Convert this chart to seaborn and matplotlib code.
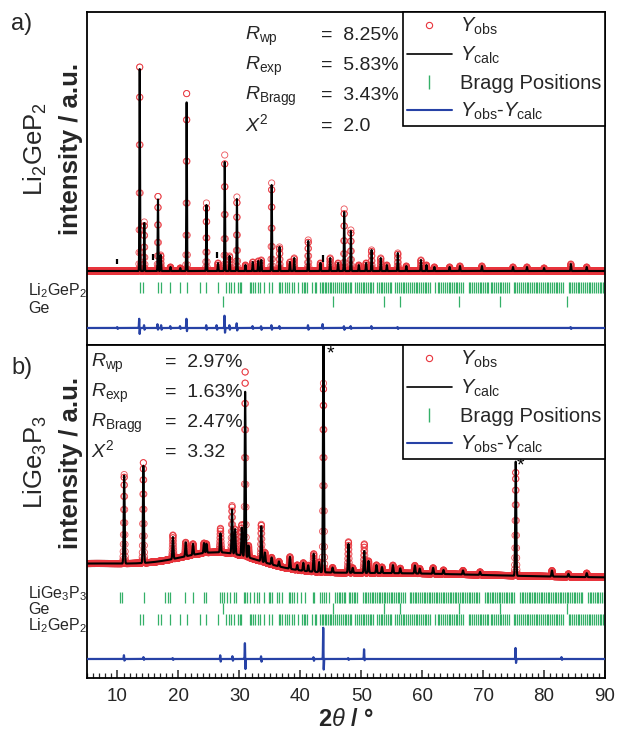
import numpy as np
import seaborn as sns
import matplotlib.pyplot as plt
from matplotlib.lines import Line2D

sns.set_theme(style="white")
plt.rcParams["font.family"] = ["Liberation Sans", "DejaVu Sans"]
plt.rcParams["mathtext.fontset"] = "custom"
plt.rcParams["mathtext.rm"] = "Liberation Sans"
plt.rcParams["mathtext.it"] = "Liberation Sans:italic"
plt.rcParams["mathtext.bf"] = "Liberation Sans:bold"

# ---------------- data ----------------
# panel a) Li2GeP2 : peak position (2theta), observed / calculated height
a_pos = [13.65, 14.4, 16.65, 17.1, 18.7, 20.3, 21.35, 24.6, 26.5, 27.6, 28.4, 29.6,
         31.0, 32.2, 33.1, 33.6, 35.3, 36.6, 38.3, 39.0, 41.3, 43.3, 44.9, 46.2,
         47.2, 48.3, 49.6, 50.8, 51.7, 53.2, 54.2, 56.0, 57.4, 59.8, 60.7, 62.0,
         64.5, 66.2, 69.8, 74.9, 77.2, 80.0, 84.4, 87.0]
a_obs = [208, 49, 76, 16, 4, 3, 181, 68, 8, 116, 15, 74,
         6, 9, 10, 11, 88, 24, 9, 13, 31, 8, 13, 8,
         62, 41, 6, 8, 21, 13, 6, 18, 5, 11, 6, 4,
         4, 5, 5, 4, 4, 3, 7, 4]
a_calc = [206, 48, 73, 16, 4, 3, 172, 66, 8, 109, 15, 72,
          6, 9, 10, 11, 86, 24, 9, 13, 30, 8, 13, 8,
          59, 40, 6, 8, 21, 13, 6, 18, 5, 11, 6, 4,
          4, 5, 5, 4, 4, 3, 7, 4]
a_base = 74
# small impurity marks in panel a: position, bottom, top
a_mark_pos = [10.0, 15.85, 26.3, 43.7]
a_mark_lo = [81, 85, 87, 83]
a_mark_hi = [86, 91, 93, 90]
# difference curve spikes: position, up, down
a_res_pos = [10.0, 13.6, 14.4, 16.6, 17.2, 18.7, 20.3, 21.35, 24.6, 26.3, 27.6, 28.4,
             29.6, 32.2, 33.6, 35.3, 36.6, 41.3, 43.7, 47.2, 48.3, 51.7, 56.0, 84.4]
a_res_up = [1, 10, 3, 4, 3, 2, 2, 10, 3, 3, 13, 3, 5, 2, 2, 3, 2, 3, 4, 2, 2, 2, 1, 1]
a_res_dn = [1, 7, 2, 2, 2, 1, 1, 4, 2, 2, 6, 2, 3, 1, 2, 2, 1, 2, 1, 2, 1, 1, 1, 1]

# panel b) LiGe3P3 (+ Ge, Li2GeP2)
b_pos = [11.1, 14.25, 19.1, 21.2, 22.4, 24.2, 24.6, 26.9, 28.8, 29.3, 30.4, 30.95,
         31.5, 33.6, 34.2, 35.3, 36.5, 38.3, 39.5, 40.5, 41.3, 42.2, 43.1, 43.8,
         45.3, 47.9, 48.6, 50.5, 51.2, 52.5, 53.4, 55.2, 56.4, 58.8, 59.6, 61.8,
         63.5, 66.7, 69.5, 75.35, 81.3, 84.0, 87.0]
b_obs = [89, 101, 24, 14, 11, 10, 9, 24, 48, 25, 31, 186,
         12, 37, 10, 7, 5, 12, 5, 8, 6, 18, 10, 189,
         5, 31, 5, 29, 12, 8, 6, 8, 5, 8, 5, 6,
         4, 4, 3, 104, 6, 3, 4]
b_calc = [88, 98, 22, 14, 11, 10, 9, 19, 44, 25, 28, 166,
          12, 35, 10, 7, 5, 12, 5, 8, 6, 18, 10, 250,
          5, 29, 5, 22, 12, 8, 6, 8, 5, 8, 5, 6,
          4, 4, 3, 115, 6, 3, 4]
b_base = 100
# broad background humps: position, height, width
b_bg_pos = [5.0, 27.0, 50.0]
b_bg_h = [14, 19, 5]
b_bg_w = [14.0, 6.5, 20.0]
b_res_pos = [11.1, 14.3, 19.1, 26.9, 28.9, 30.95, 33.6, 42.2, 43.8, 47.9, 50.5, 75.35, 82.9]
b_res_up = [4, 2, 1, 4, 3, 18, 3, 2, 33, 1, 10, 12, 2]
b_res_dn = [2, 1, 1, 3, 2, 12, 3, 2, 14, 1, 2, 5, 1]
b_stars = [44.9, 76.2]
b_star_y = [324, 212]

# Bragg positions
li2gep2_ticks = [
    13.64, 14.19, 16.65, 17.14, 18.68, 20.32, 21.41, 23.6, 24.58, 26.5, 27.87, 28.25,
    28.69, 29.07, 29.73, 30.05, 30.33, 31.7, 31.97, 32.24, 32.63, 33.0, 33.45, 34.0,
    34.8, 35.36, 36.45, 36.73, 37.0, 37.55, 37.82, 38.1, 38.64, 38.92, 39.57, 40.28,
    40.56, 40.83, 41.1, 41.93, 42.35, 42.6, 43.3, 43.52, 43.8, 44.02, 44.3, 44.61,
    44.85, 45.12, 45.4, 45.72, 46.01, 46.28, 46.6, 47.02, 47.3, 47.52, 47.83, 48.12,
    48.4, 49.05, 49.36, 49.62, 49.9, 50.21, 50.48, 50.81, 51.06, 51.37, 51.6, 51.93,
    52.62, 52.88, 53.21, 53.47, 53.8, 54.08, 54.42, 54.7, 54.96, 55.62, 55.9, 56.23,
    56.5, 56.81, 57.07, 57.42, 57.69, 57.98, 58.33, 58.6, 58.92, 59.18, 59.5, 59.83,
    60.08, 60.41, 60.7, 61.02, 61.28, 62.18, 62.52, 62.79, 63.12, 63.38, 63.72, 64.01,
    64.32, 64.58, 64.93, 65.2, 65.51, 65.79, 66.12, 66.4, 66.73, 67.62, 67.88, 68.21,
    68.5, 68.82, 69.08, 69.43, 69.7, 70.02, 70.3, 70.61, 70.88, 71.22, 71.48, 71.8,
    72.12, 72.38, 72.71, 72.98, 73.32, 73.6, 73.93, 74.2, 75.02, 75.31, 75.58, 75.92,
    76.2, 76.52, 76.8, 77.12, 77.4, 77.68, 78.02, 78.28, 78.61, 78.9, 79.2, 79.53,
    79.8, 80.11, 80.42, 80.7, 81.01, 81.28, 81.62, 81.9, 82.2, 82.51, 82.8, 83.12,
    84.02, 84.3, 84.62, 84.9, 85.22, 85.5, 85.78, 86.1, 86.41, 86.7, 87.02, 87.3,
    87.58, 87.9, 88.21, 88.5, 88.8, 89.12, 89.4, 89.72]
ge_ticks = [27.3, 45.35, 53.75, 56.4, 66.05, 72.85, 83.75]
lige3p3_ticks = [
    10.36, 10.74, 14.3, 17.86, 18.24, 18.68, 21.14, 22.4, 24.15, 24.53, 26.88, 27.16,
    27.43, 27.98, 28.41, 29.07, 29.45, 30.71, 30.98, 31.26, 31.8, 32.35, 32.9, 33.17,
    34.0, 34.8, 35.1, 35.36, 36.2, 36.45, 37.0, 38.1, 38.37, 38.64, 38.92, 39.46,
    40.17, 40.83, 42.09, 42.3, 43.18, 43.57, 43.95, 44.28, 44.66, 45.75, 46.02, 46.3,
    46.55, 46.82, 47.1, 47.4, 47.92, 48.2, 48.47, 48.78, 49.05, 49.32, 50.3, 50.58,
    50.85, 51.12, 51.4, 51.71, 51.98, 52.26, 52.52, 52.85, 53.1, 53.42, 53.7, 53.96,
    54.28, 54.55, 54.82, 55.12, 55.4, 55.7, 55.98, 56.25, 56.56, 56.82, 57.1, 57.95,
    58.22, 58.5, 58.8, 59.06, 59.38, 59.66, 59.92, 60.22, 60.5, 60.8, 61.08, 61.35,
    61.66, 61.92, 62.2, 62.5, 62.78, 63.08, 63.36, 63.62, 63.92, 64.2, 64.5, 64.8,
    65.06, 65.36, 65.62, 65.92, 66.2, 66.48, 66.78, 67.06, 67.35, 67.62, 67.92, 68.2,
    68.5, 68.78, 69.05, 69.32, 70.3, 70.56, 70.86, 71.12, 71.42, 71.7, 71.98, 72.26,
    72.56, 72.82, 73.12, 73.4, 73.68, 73.96, 74.26, 74.52, 74.82, 75.08, 76.02, 76.3,
    76.6, 76.88, 77.16, 77.46, 77.72, 78.02, 78.3, 78.58, 78.88, 79.16, 79.42, 79.72,
    80.0, 80.3, 80.58, 80.86, 81.14, 81.42, 81.72, 82.0, 82.28, 82.56, 82.86, 83.12,
    83.42, 83.7, 83.98, 84.28, 84.56, 84.84, 85.12, 85.4, 85.7, 85.98, 86.26, 87.2,
    87.48, 87.76, 88.05, 88.32, 88.62, 88.9, 89.2, 89.46, 89.76]

a_stats = ["8.25%", "5.83%", "3.43%", "2.0"]
b_stats = ["2.97%", "1.63%", "2.47%", "3.32"]
stat_names = [r"$R_{\rm wp}$", r"$R_{\rm exp}$", r"$R_{\rm Bragg}$", r"$X^{2}$"]
x_ticks = [10, 20, 30, 40, 50, 60, 70, 80, 90]

# ---------------- styling ----------------
RED = "#e8343c"
GREEN = "#34b068"
BLUE = "#2742a6"
W, H = 617, 738


def fxy(x, y):
    return x / W, 1 - y / H


def peaks(x, pos, hts, w):
    p = np.asarray(pos)[:, None]
    h = np.asarray(hts, dtype=float)[:, None]
    ww = np.broadcast_to(np.asarray(w, dtype=float), p.shape[:1])[:, None]
    return (h * np.exp(-0.5 * ((x[None, :] - p) / ww) ** 2)).sum(axis=0)


def diff_curve(x, pos, up, dn):
    p = np.asarray(pos)
    return peaks(x, p - 0.035, up, 0.035) - peaks(x, p + 0.035, dn, 0.035)


tt = np.arange(5.0, 90.001, 0.02)

fig = plt.figure(figsize=(W / 100, H / 100), dpi=100)
ax_a = fig.add_axes([87 / W, 1 - 345 / H, 518 / W, 333 / H])
ax_b = fig.add_axes([87 / W, 1 - 678 / H, 518 / W, 333 / H])


def draw_panel(ax, obs, calc, res, res_level, rows):
    sns.scatterplot(x=tt, y=obs, ax=ax, marker="o", s=20, facecolor="none",
                    edgecolor=RED, linewidth=0.6, alpha=0.85, zorder=2)
    sns.lineplot(x=tt, y=calc, ax=ax, color="black", lw=1.5, estimator=None,
                 sort=False, zorder=3)
    sns.lineplot(x=tt, y=res + res_level, ax=ax, color=BLUE, lw=1.6,
                 estimator=None, sort=False, zorder=3)
    for ticks, yc in rows:
        ax.vlines(ticks, yc - 5.5, yc + 5.5, color=GREEN, lw=0.9, zorder=2)
    ax.set_xlim(5, 90)
    ax.set_ylim(0, 333)
    ax.set_yticks([])
    for s in ax.spines.values():
        s.set_color("black")
        s.set_linewidth(1.3)


# panel a
obs_a = a_base + peaks(tt, a_pos, a_obs, 0.05)
calc_a = a_base + peaks(tt, a_pos, a_calc, 0.05)
res_a = diff_curve(tt, a_res_pos, a_res_up, a_res_dn)
draw_panel(ax_a, obs_a, calc_a, res_a, 17,
           [(li2gep2_ticks, 57.5), (ge_ticks, 43.5)])
ax_a.vlines(a_mark_pos, a_mark_lo, a_mark_hi, color="black", lw=1.6, zorder=4)
ax_a.set_xticks([])

# panel b
bg_b = b_base + peaks(tt, b_bg_pos, b_bg_h, b_bg_w)
obs_b = bg_b + peaks(tt, b_pos, b_obs, 0.08)
calc_b = bg_b + peaks(tt, b_pos, b_calc, 0.08)
res_b = diff_curve(tt, b_res_pos, b_res_up, b_res_dn)
draw_panel(ax_b, obs_b, calc_b, res_b, 19,
           [(lige3p3_ticks, 81), (ge_ticks, 70), (li2gep2_ticks, 59)])
for xs, ys in zip(b_stars, b_star_y):
    ax_b.text(xs, ys, "*", fontsize=14, ha="center", va="center", color="black")

ax_b.set_xticks(x_ticks)
ax_b.set_xticks(range(5, 91), minor=True)
ax_b.tick_params(axis="x", which="major", direction="in", length=6, width=1.1,
                 labelsize=13.5, pad=7, bottom=True)
ax_b.tick_params(axis="x", which="minor", direction="in", length=3.5, width=0.9,
                 bottom=True)
ax_b.set_xlabel(r"2$\mathit{\theta}$ / °", fontsize=17, fontweight="bold", labelpad=2)

# legends
handles = [
    Line2D([], [], ls="none", marker="o", mfc="none", mec=RED, ms=4.5, mew=0.8,
           label=r"$Y_{\rm obs}$"),
    Line2D([], [], color="black", lw=1.2, label=r"$Y_{\rm calc}$"),
    Line2D([], [], ls="none", marker="|", color=GREEN, ms=10, mew=1.0,
           label="Bragg Positions"),
    Line2D([], [], color=BLUE, lw=1.5, label=r"$Y_{\rm obs}$-$Y_{\rm calc}$"),
]
for ax in (ax_a, ax_b):
    leg = ax.legend(handles=handles, loc="upper right", borderaxespad=0,
                    fancybox=False, framealpha=1, edgecolor="black",
                    fontsize=14.5, handlelength=2.2, handletextpad=0.4,
                    labelspacing=0.38, borderpad=0.2)
    leg.get_frame().set_linewidth(1.2)

# fit statistics
for i, (name, val) in enumerate(zip(stat_names, a_stats)):
    y = [40, 70, 100, 131][i]
    fig.text(*fxy(245, y), name, fontsize=14, va="baseline")
    fig.text(*fxy(321, y), "=  " + val, fontsize=14, va="baseline", color="#222222")
for i, (name, val) in enumerate(zip(stat_names, b_stats)):
    y = [367, 397, 427, 457][i]
    fig.text(*fxy(91, y), name, fontsize=14, va="baseline")
    fig.text(*fxy(165, y), "=  " + val, fontsize=14, va="baseline", color="#222222")

# panel labels and side texts
fig.text(*fxy(11, 24), "a)", fontsize=17, va="center")
fig.text(*fxy(11, 368), "b)", fontsize=17, va="center")
fig.text(*fxy(35, 149), r"Li$_2$GeP$_2$", fontsize=18.5, rotation=90,
         ha="center", va="center")
fig.text(*fxy(71, 149), "intensity / a.u.", fontsize=18.5, fontweight="bold",
         rotation=90, ha="center", va="center")
fig.text(*fxy(35, 462), r"LiGe$_3$P$_3$", fontsize=18.5, rotation=90,
         ha="center", va="center")
fig.text(*fxy(71, 463), "intensity / a.u.", fontsize=18.5, fontweight="bold",
         rotation=90, ha="center", va="center")

fig.text(*fxy(28, 295), r"Li$_2$GeP$_2$", fontsize=11.5, va="baseline")
fig.text(*fxy(28, 313), "Ge", fontsize=11.5, va="baseline")
fig.text(*fxy(28, 598), r"LiGe$_3$P$_3$", fontsize=11.5, va="baseline")
fig.text(*fxy(28, 614), "Ge", fontsize=11.5, va="baseline")
fig.text(*fxy(28, 630), r"Li$_2$GeP$_2$", fontsize=11.5, va="baseline")

fig.savefig("out.png", dpi=100)
